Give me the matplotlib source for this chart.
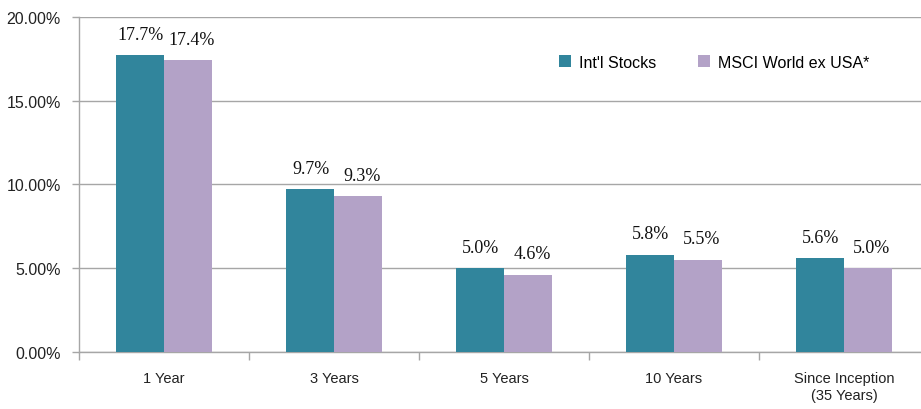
import numpy as np
from matplotlib import pyplot as plt
from matplotlib.ticker import FuncFormatter

categories = ['1 Year', '3 Years', '5 Years', '10 Years', 'Since Inception\n(35 Years)']
intl_stocks = [17.7, 9.7, 5.0, 5.8, 5.6]
msci_world = [17.4, 9.3, 4.6, 5.5, 5.0]
series_names = ["Int'l Stocks", 'MSCI World ex USA*']

teal = '#31859C'
lavender = '#B3A2C7'
grid_grey = '#A6A6A6'
sans = ['Liberation Sans', 'DejaVu Sans']
serif = ['Liberation Serif', 'DejaVu Serif']

fig = plt.figure(figsize=(9.21, 4.10), dpi=100)
ax = fig.add_axes([79 / 921, 57 / 410, 850 / 921, 335.3 / 410])

x = np.arange(len(categories))
w = 0.28
b1 = ax.bar(x - w / 2, intl_stocks, w, color=teal, label=series_names[0], zorder=3)
b2 = ax.bar(x + w / 2, msci_world, w, color=lavender, label=series_names[1], zorder=3)

# value labels, the second series sits a bit to the right like the original
for bars, vals, dx in [(b1, intl_stocks, 0.5), (b2, msci_world, 3)]:
    for rect, v in zip(bars, vals):
        ax.annotate('%.1f%%' % v, (rect.get_x() + rect.get_width() / 2, v),
                    xytext=(dx, 9), textcoords='offset points', ha='center', va='bottom',
                    fontsize=13, family=serif, color='#111111')

ax.set_xlim(-0.5, len(categories) - 0.5)
ax.set_ylim(0, 20)
ax.set_yticks([0, 5, 10, 15, 20])
ax.yaxis.set_major_formatter(FuncFormatter(lambda v, p: '%.2f%%' % v))
ax.yaxis.grid(True, color=grid_grey, linewidth=1, zorder=0)
ax.set_xticks(x)
ax.set_xticklabels(categories, family=sans, fontsize=10.5, color='#222222')
ax.set_xticks(np.arange(len(categories) + 1) - 0.5, minor=True)
ax.tick_params(axis='x', which='major', length=0, pad=14)
ax.tick_params(axis='x', which='minor', length=6, color=grid_grey, width=1)
ax.tick_params(axis='y', length=5, color=grid_grey, width=1, pad=8, labelsize=11.5, labelcolor='#222222')
for lab in ax.get_yticklabels():
    lab.set_family(sans)

for s in ['top', 'right']:
    ax.spines[s].set_visible(False)
for s in ['left', 'bottom']:
    ax.spines[s].set_color(grid_grey)
    ax.spines[s].set_linewidth(1)

fig.legend(loc='center left', bbox_to_anchor=(559 / 921, 1 - 63 / 410), ncol=2, frameon=False,
           handlelength=0.75, handleheight=0.75, handletextpad=0.5, columnspacing=2.6,
           prop={'family': sans, 'size': 11.5}, borderpad=0, borderaxespad=0)

fig.savefig('out.png', dpi=100)
